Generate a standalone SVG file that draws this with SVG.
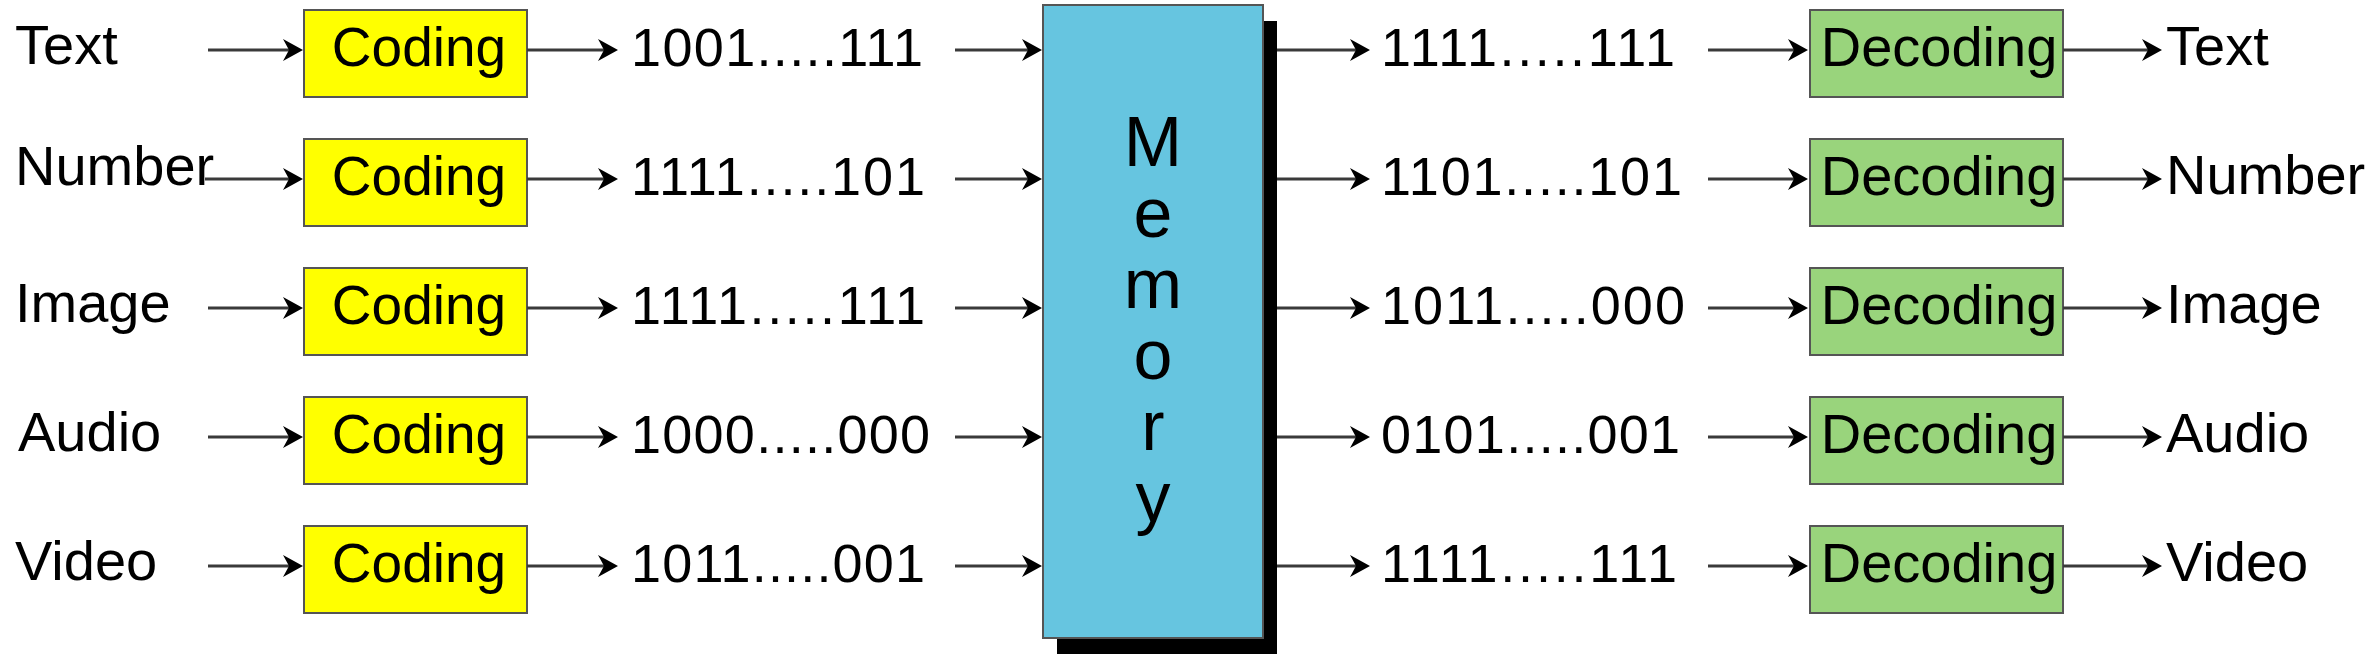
<svg xmlns="http://www.w3.org/2000/svg" width="2380" height="664" viewBox="0 0 2380 664">
<defs>
<marker id="ah" viewBox="0 0 20 22" refX="9" refY="11" markerWidth="20" markerHeight="22" markerUnits="userSpaceOnUse" orient="auto">
<path d="M0,0 L20,11 L0,22 L6,11 z" fill="#000"/>
</marker>
</defs>
<style>
text{font-family:"Liberation Sans",Arial,sans-serif;fill:#000}
.lbl{font-size:56px}
.num{font-size:54px}
.box{font-size:55px;text-anchor:middle}
.dbox{font-size:56px;text-anchor:middle}
.cod{fill:#ffff00;stroke:#555;stroke-width:2}
.dec{fill:#99d47c;stroke:#555;stroke-width:2}
.con line{stroke:#3a3a3a;stroke-width:3;marker-end:url(#ah)}
.mem{font-size:70px;text-anchor:middle}
</style>
<rect width="2380" height="664" fill="#fff"/>

<g id="memory">
<rect x="1057" y="21" width="220" height="633" fill="#000"/>
<rect x="1043" y="5" width="220" height="633" fill="#66c5e0" stroke="#555" stroke-width="2"/>
<text class="mem"><tspan x="1153" y="166">M</tspan><tspan x="1153" y="237">e</tspan><tspan x="1153" y="308">m</tspan><tspan x="1153" y="379">o</tspan><tspan x="1153" y="450">r</tspan><tspan x="1153" y="521">y</tspan></text>
</g>

<g id="in-labels">
<text class="lbl" x="15" y="64">Text</text>
<text class="lbl" x="15" y="185">Number</text>
<text class="lbl" x="15" y="322">Image</text>
<text class="lbl" x="18" y="451">Audio</text>
<text class="lbl" x="15" y="580">Video</text>
</g>

<g id="coding1"><rect class="cod" x="304" y="10" width="223" height="87"/><text class="box" x="419" y="66">Coding</text></g>
<g id="coding2"><rect class="cod" x="304" y="139" width="223" height="87"/><text class="box" x="419" y="195">Coding</text></g>
<g id="coding3"><rect class="cod" x="304" y="268" width="223" height="87"/><text class="box" x="419" y="324">Coding</text></g>
<g id="coding4"><rect class="cod" x="304" y="397" width="223" height="87"/><text class="box" x="419" y="453">Coding</text></g>
<g id="coding5"><rect class="cod" x="304" y="526" width="223" height="87"/><text class="box" x="419" y="582">Coding</text></g>

<g id="in-codes">
<text class="num" x="631" y="66" textLength="292" lengthAdjust="spacing">1001.....111</text>
<text class="num" x="631" y="195" textLength="294" lengthAdjust="spacing">1111.....101</text>
<text class="num" x="631" y="324" textLength="294" lengthAdjust="spacing">1111.....111</text>
<text class="num" x="631" y="453" textLength="299" lengthAdjust="spacing">1000.....000</text>
<text class="num" x="631" y="582" textLength="294" lengthAdjust="spacing">1011.....001</text>
</g>

<g id="out-codes">
<text class="num" x="1381" y="66" textLength="294" lengthAdjust="spacing">1111.....111</text>
<text class="num" x="1381" y="195" textLength="301" lengthAdjust="spacing">1101.....101</text>
<text class="num" x="1381" y="324" textLength="304" lengthAdjust="spacing">1011.....000</text>
<text class="num" x="1381" y="453" textLength="299" lengthAdjust="spacing">0101.....001</text>
<text class="num" x="1381" y="582" textLength="296" lengthAdjust="spacing">1111.....111</text>
</g>

<g id="decoding1"><rect class="dec" x="1810" y="10" width="253" height="87"/><text class="dbox" x="1939" y="66">Decoding</text></g>
<g id="decoding2"><rect class="dec" x="1810" y="139" width="253" height="87"/><text class="dbox" x="1939" y="195">Decoding</text></g>
<g id="decoding3"><rect class="dec" x="1810" y="268" width="253" height="87"/><text class="dbox" x="1939" y="324">Decoding</text></g>
<g id="decoding4"><rect class="dec" x="1810" y="397" width="253" height="87"/><text class="dbox" x="1939" y="453">Decoding</text></g>
<g id="decoding5"><rect class="dec" x="1810" y="526" width="253" height="87"/><text class="dbox" x="1939" y="582">Decoding</text></g>

<g id="out-labels">
<text class="lbl" x="2166" y="65">Text</text>
<text class="lbl" x="2166" y="194">Number</text>
<text class="lbl" x="2166" y="323">Image</text>
<text class="lbl" x="2166" y="452">Audio</text>
<text class="lbl" x="2166" y="581">Video</text>
</g>

<g id="connectors" class="con">
<line x1="208" y1="50" x2="292" y2="50"/><line x1="527" y1="50" x2="607" y2="50"/><line x1="955" y1="50" x2="1031" y2="50"/><line x1="1277" y1="50" x2="1359" y2="50"/><line x1="1708" y1="50" x2="1797" y2="50"/><line x1="2063" y1="50" x2="2151" y2="50"/>
<line x1="205" y1="179" x2="292" y2="179"/><line x1="527" y1="179" x2="607" y2="179"/><line x1="955" y1="179" x2="1031" y2="179"/><line x1="1277" y1="179" x2="1359" y2="179"/><line x1="1708" y1="179" x2="1797" y2="179"/><line x1="2063" y1="179" x2="2151" y2="179"/>
<line x1="208" y1="308" x2="292" y2="308"/><line x1="527" y1="308" x2="607" y2="308"/><line x1="955" y1="308" x2="1031" y2="308"/><line x1="1277" y1="308" x2="1359" y2="308"/><line x1="1708" y1="308" x2="1797" y2="308"/><line x1="2063" y1="308" x2="2151" y2="308"/>
<line x1="208" y1="437" x2="292" y2="437"/><line x1="527" y1="437" x2="607" y2="437"/><line x1="955" y1="437" x2="1031" y2="437"/><line x1="1277" y1="437" x2="1359" y2="437"/><line x1="1708" y1="437" x2="1797" y2="437"/><line x1="2063" y1="437" x2="2151" y2="437"/>
<line x1="208" y1="566" x2="292" y2="566"/><line x1="527" y1="566" x2="607" y2="566"/><line x1="955" y1="566" x2="1031" y2="566"/><line x1="1277" y1="566" x2="1359" y2="566"/><line x1="1708" y1="566" x2="1797" y2="566"/><line x1="2063" y1="566" x2="2151" y2="566"/>
</g>
</svg>
